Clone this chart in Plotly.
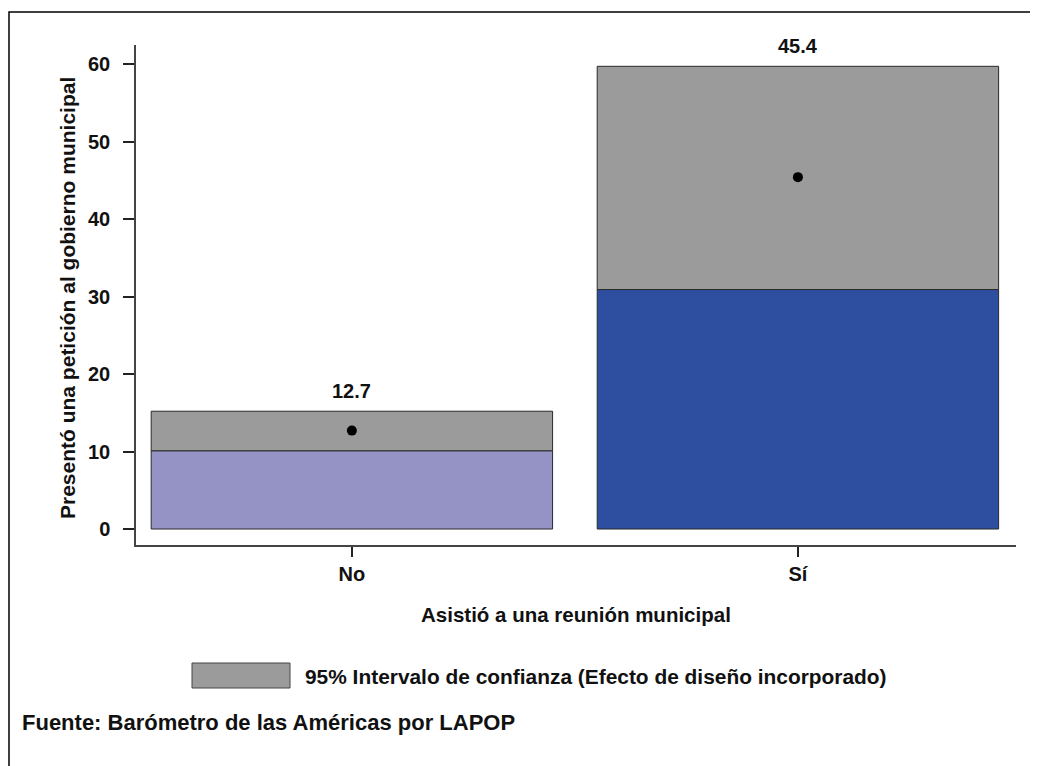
import plotly.graph_objects as go

categories = ["No", "Sí"]
means = [12.7, 45.4]
ci_lower = [10.1, 30.9]
ci_upper = [15.2, 59.7]
bar_colors = ["#9593C6", "#2E4FA0"]
value_labels = ["12.7", "45.4"]
y_ticks = [0, 10, 20, 30, 40, 50, 60]

FONT = "Liberation Sans"
CI_GRAY = "#9B9B9B"
EDGE = "#2a2a2a"
TXT = "#111"

# plot area: 880 x 500 px; browser adds an 8px body margin
def px(sx):
    return (sx - 136) / 880

def py(sy):
    return (545 - sy) / 500

fig = go.Figure()

fig.add_trace(go.Bar(
    x=categories, y=ci_lower, width=0.9,
    marker=dict(color=bar_colors, line=dict(color=EDGE, width=1)),
    showlegend=False, hoverinfo="skip"))

fig.add_trace(go.Bar(
    x=categories, y=[u - l for u, l in zip(ci_upper, ci_lower)], base=ci_lower,
    width=0.9,
    marker=dict(color=CI_GRAY, line=dict(color=EDGE, width=1)),
    showlegend=False, hoverinfo="skip"))

fig.add_trace(go.Scatter(
    x=categories, y=means, mode="markers",
    marker=dict(color="black", size=10),
    showlegend=False, hoverinfo="skip"))

annotations = []
for cat, up, lab in zip(categories, ci_upper, value_labels):
    annotations.append(dict(
        x=cat, y=up, xref="x", yref="y", text=lab, showarrow=False,
        xanchor="center", yanchor="bottom", yshift=7,
        font=dict(family=FONT, size=20, color=TXT, weight="bold")))

annotations += [
    dict(text="Asistió a una reunión municipal", xref="paper", yref="paper",
         x=px(576), y=py(614), showarrow=False,
         xanchor="center", yanchor="middle",
         font=dict(family=FONT, size=20.5, color=TXT, weight="bold")),
    dict(text="Presentó una petición al gobierno municipal", xref="paper", yref="paper",
         x=px(67), y=py(298), showarrow=False, textangle=-90,
         xanchor="center", yanchor="middle",
         font=dict(family=FONT, size=21, color=TXT, weight="bold")),
    dict(text="95% Intervalo de confianza (Efecto de diseño incorporado)",
         xref="paper", yref="paper",
         x=px(303), y=py(676), showarrow=False,
         xanchor="left", yanchor="middle",
         font=dict(family=FONT, size=20.9, color=TXT, weight="bold")),
    dict(text="Fuente: Barómetro de las Américas por LAPOP",
         xref="paper", yref="paper",
         x=px(20), y=py(722), showarrow=False,
         xanchor="left", yanchor="middle",
         font=dict(family=FONT, size=22, color=TXT, weight="bold")),
]

fig.update_layout(
    barmode="overlay",
    width=1038, height=766,
    margin=dict(l=128, r=30, t=37, b=229),
    paper_bgcolor="white", plot_bgcolor="white",
    font=dict(family=FONT, color=TXT),
    xaxis=dict(
        range=[-0.484, 1.489], showgrid=False, zeroline=False,
        showline=True, linecolor="#444", linewidth=1.5,
        ticks="outside", ticklen=10, tickcolor="#222", tickwidth=1.5,
        tickfont=dict(family=FONT, size=20, color=TXT, weight="bold"),
        fixedrange=True),
    yaxis=dict(
        range=[-2.06, 62.45], showgrid=False, zeroline=False,
        showline=True, linecolor="#444", linewidth=1.5,
        tickvals=y_ticks, ticks="outside", ticklen=11, tickcolor="#222", tickwidth=1.5,
        tickfont=dict(family=FONT, size=20, color=TXT, weight="bold"),
        ticklabelstandoff=9,
        fixedrange=True),
    shapes=[
        dict(type="rect", xref="paper", yref="paper",
             x0=px(9), x1=px(1060), y0=py(790), y1=py(12),
             line=dict(color="black", width=1.5), fillcolor="rgba(0,0,0,0)"),
        dict(type="rect", xref="paper", yref="paper",
             x0=px(192), x1=px(290), y0=py(688), y1=py(663),
             line=dict(color="#444", width=1), fillcolor=CI_GRAY),
    ],
    annotations=annotations,
)

fig.write_html("out.html")
